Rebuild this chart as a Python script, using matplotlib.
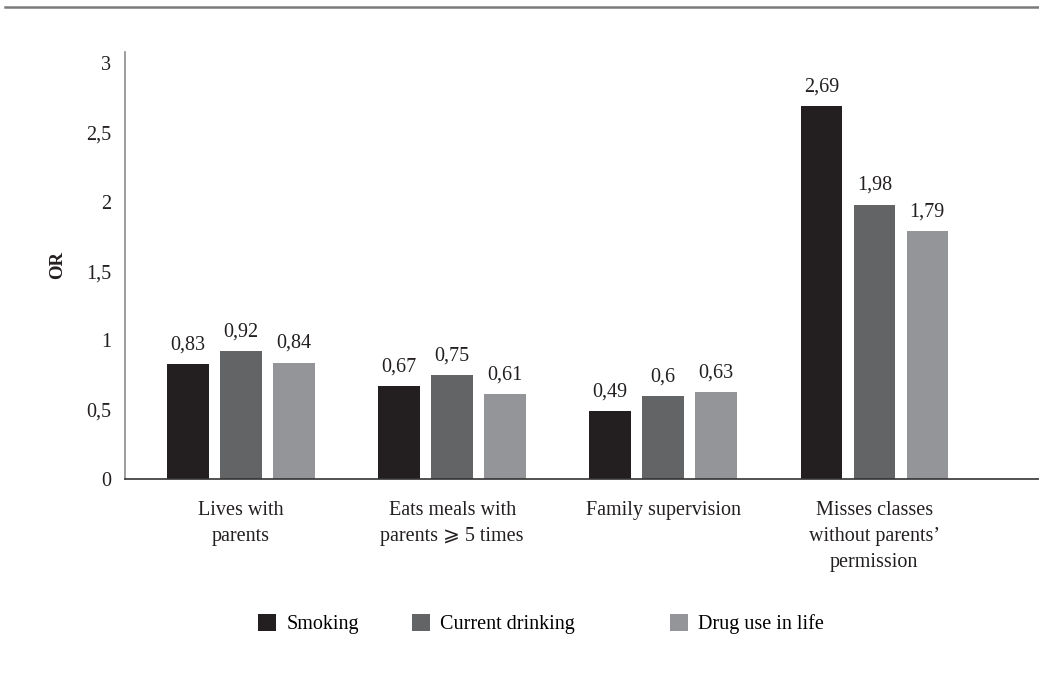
import numpy as np
import matplotlib
matplotlib.use("Agg")
from matplotlib import pyplot as plt
from matplotlib.lines import Line2D

# odds ratios per family factor
categories = ["Lives with\nparents",
              "Eats meals with\nparents \u2a7e 5 times",
              "Family supervision",
              "Misses classes\nwithout parents\u2019\npermission"]
smoking = [0.83, 0.67, 0.49, 2.69]
drinking = [0.92, 0.75, 0.60, 1.98]
drugs = [0.84, 0.61, 0.63, 1.79]
series_names = ["Smoking", "Current drinking", "Drug use in life"]
colors = ["#231f20", "#636466", "#939598"]
yticks = [0, 0.5, 1, 1.5, 2, 2.5, 3]

plt.rcParams['font.family'] = ['Liberation Serif', 'DejaVu Serif', 'DejaVu Sans']
FS = 14.5


def fmt(v):
    s = ('%.2f' % v).rstrip('0').rstrip('.')
    return s.replace('.', ',')


fig = plt.figure(figsize=(10.39, 6.84), dpi=100)
ax = fig.add_axes([0.1203, 0.2997, 0.8797, 0.6247])

x = np.arange(len(categories))
width = 0.197
step = 0.251
bars = []
for i, (vals, name, c) in enumerate(zip([smoking, drinking, drugs], series_names, colors)):
    b = ax.bar(x + (i - 1) * step, vals, width, color=c, label=name)
    bars.append(b)
    for xi, v in zip(x + (i - 1) * step, vals):
        ax.annotate(fmt(v), (xi, v), xytext=(0, 10.5), textcoords='offset points',
                    ha='center', va='baseline', fontsize=FS, color='#231f20')

ax.set_xlim(-0.55, 3.78)
ax.set_ylim(0, 3.083)
ax.set_yticks(yticks)
ax.set_yticklabels([fmt(t) for t in yticks], fontsize=FS, color='#231f20')
ax.set_xticks(x)
ax.set_xticklabels(categories, fontsize=FS, color='#231f20', linespacing=1.5)
ax.tick_params(axis='y', length=0, pad=10)
ax.tick_params(axis='x', length=0, pad=16)
ax.set_ylabel('OR', fontsize=FS - 1, fontweight='bold', labelpad=14, color='#231f20')

for s in ['top', 'right']:
    ax.spines[s].set_visible(False)
ax.spines['left'].set_color('#8c8c8c')
ax.spines['left'].set_linewidth(1.2)
ax.spines['bottom'].set_color('#333333')
ax.spines['bottom'].set_linewidth(1.2)

# legend entries sit at uneven positions, so one legend per series
legend_x = [258, 412, 670]
for b, lx in zip(bars, legend_x):
    fig.legend([b], [b.get_label()], loc='center left',
               bbox_to_anchor=(lx / 1039, 1 - 624 / 684), frameon=False,
               fontsize=FS, borderpad=0, borderaxespad=0,
               handlelength=0.9, handleheight=0.9, handletextpad=0.5)

# rule across the top of the page
fig.add_artist(Line2D([0.005, 1.0], [1 - 6.5 / 684, 1 - 6.5 / 684],
                      transform=fig.transFigure, color='#7a7a7a', linewidth=1.8))

fig.savefig('out.png', dpi=100)
